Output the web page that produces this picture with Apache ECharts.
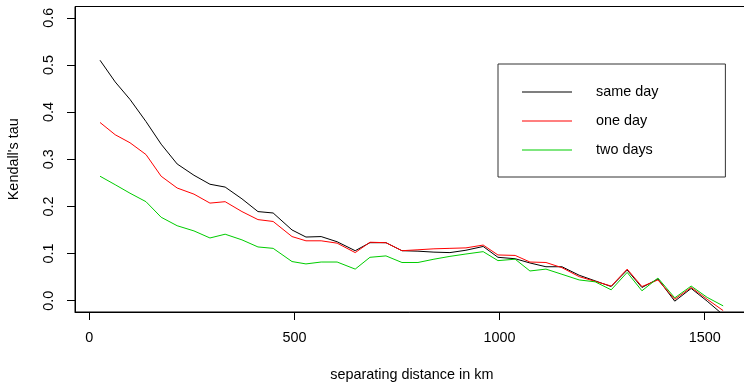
<!DOCTYPE html>
<html>
<head>
<meta charset="utf-8">
<script src="https://cdn.jsdelivr.net/npm/echarts@6/dist/echarts.min.js"></script>
<style>
html,body{margin:0;padding:0;background:#fff;}
#chart{width:744px;height:383px;}
</style>
</head>
<body>
<div id="chart"></div>
<script>
// distance (km)
const distances = [26, 63, 99, 138, 175, 214, 255, 294, 331, 372, 411, 448, 494, 528, 565, 604, 648, 684, 723, 762,
  801, 840, 879, 918, 960, 996, 1038, 1074, 1113, 1152, 1194, 1233, 1272, 1311, 1347, 1386, 1427, 1467, 1506, 1545];
const sameDay = [0.510, 0.464, 0.427, 0.380, 0.332, 0.290, 0.266, 0.247, 0.241, 0.216, 0.189, 0.186, 0.150, 0.135, 0.136, 0.125, 0.106, 0.123, 0.123, 0.106,
  0.105, 0.103, 0.102, 0.107, 0.115, 0.092, 0.089, 0.080, 0.072, 0.072, 0.054, 0.042, 0.030, 0.065, 0.028, 0.046, -0.001, 0.026, -0.001, -0.030];
const oneDay = [0.378, 0.352, 0.335, 0.310, 0.264, 0.239, 0.226, 0.207, 0.210, 0.189, 0.172, 0.168, 0.136, 0.127, 0.127, 0.122, 0.102, 0.124, 0.123, 0.106,
  0.108, 0.110, 0.111, 0.112, 0.118, 0.097, 0.096, 0.082, 0.081, 0.070, 0.051, 0.041, 0.031, 0.067, 0.030, 0.044, 0.003, 0.028, 0.003, -0.021];
const twoDays = [0.264, 0.246, 0.228, 0.210, 0.177, 0.159, 0.148, 0.133, 0.141, 0.129, 0.114, 0.111, 0.083, 0.078, 0.082, 0.082, 0.067, 0.092, 0.095, 0.081,
  0.081, 0.088, 0.094, 0.099, 0.104, 0.085, 0.088, 0.063, 0.067, 0.056, 0.044, 0.040, 0.023, 0.060, 0.021, 0.048, 0.006, 0.031, 0.007, -0.011];
const seriesNames = ['same day', 'one day', 'two days'];
const xTicks = [0, 500, 1000, 1500];
const yTicks = [0.0, 0.1, 0.2, 0.3, 0.4, 0.5, 0.6];

const FONT = 'Liberation Sans, Arial, Helvetica, sans-serif';
const FS = 14.4;

function pairs(ys) { return distances.map((d, i) => [d, ys[i]]); }

const chart = echarts.init(document.getElementById('chart'), null, {renderer: 'canvas'});
const option = {
  animation: false,
  backgroundColor: '#ffffff',
  textStyle: {fontFamily: FONT},
  grid: {
    left: 75, top: 6.5, right: -4.6, bottom: 71,
    show: true, borderColor: '#000', borderWidth: 1,
    backgroundColor: 'transparent',
    containLabel: false, outerBoundsMode: 'none'
  },
  legend: {
    orient: 'vertical',
    left: 498, top: 64,
    data: seriesNames.map(n => ({name: n, icon: 'rect'})),
    itemWidth: 50, itemHeight: 1.2, itemGap: 15,
    padding: [21, 67, 20, 24],
    borderColor: '#333', borderWidth: 1,
    backgroundColor: '#fff',
    selectedMode: false,
    textStyle: {fontFamily: FONT, fontSize: FS, color: '#000', lineHeight: 14, padding: [0, 0, 0, 19]}
  },
  xAxis: {
    type: 'value',
    min: -35, max: 1607,
    name: 'separating distance in km',
    nameLocation: 'middle', nameGap: 56,
    nameTextStyle: {fontFamily: FONT, fontSize: FS, color: '#000'},
    axisLine: {show: true, onZero: false, lineStyle: {color: '#000', width: 1}},
    axisTick: {show: true, length: 8, lineStyle: {color: '#000'}, customValues: xTicks},
    axisLabel: {show: true, margin: 19, fontFamily: FONT, fontSize: FS, color: '#000', customValues: xTicks,
      formatter: v => String(v), showMinLabel: true, showMaxLabel: true},
    splitLine: {show: false}
  },
  yAxis: {
    type: 'value',
    min: -0.024, max: 0.624,
    name: "Kendall's tau",
    nameLocation: 'middle', nameGap: 54, nameRotate: 90,
    nameTextStyle: {fontFamily: FONT, fontSize: FS, color: '#000'},
    axisLine: {show: true, onZero: false, lineStyle: {color: '#000', width: 1}},
    axisTick: {show: true, length: 8, lineStyle: {color: '#000'}, customValues: yTicks},
    axisLabel: {show: true, rotate: 90, margin: 19, fontFamily: FONT, fontSize: FS, color: '#000', customValues: yTicks,
      formatter: v => v.toFixed(1)},
    splitLine: {show: false}
  },
  series: [
    {name: seriesNames[0], type: 'line', data: pairs(sameDay), symbol: 'none', clip: true,
      lineStyle: {color: '#000000', width: 1}, itemStyle: {color: '#000000'}},
    {name: seriesNames[1], type: 'line', data: pairs(oneDay), symbol: 'none', clip: true,
      lineStyle: {color: '#ff0000', width: 1}, itemStyle: {color: '#ff0000'}},
    {name: seriesNames[2], type: 'line', data: pairs(twoDays), symbol: 'none', clip: true,
      lineStyle: {color: '#00cd00', width: 1}, itemStyle: {color: '#00cd00'}}
  ]
};
chart.setOption(option);
</script>
</body>
</html>
